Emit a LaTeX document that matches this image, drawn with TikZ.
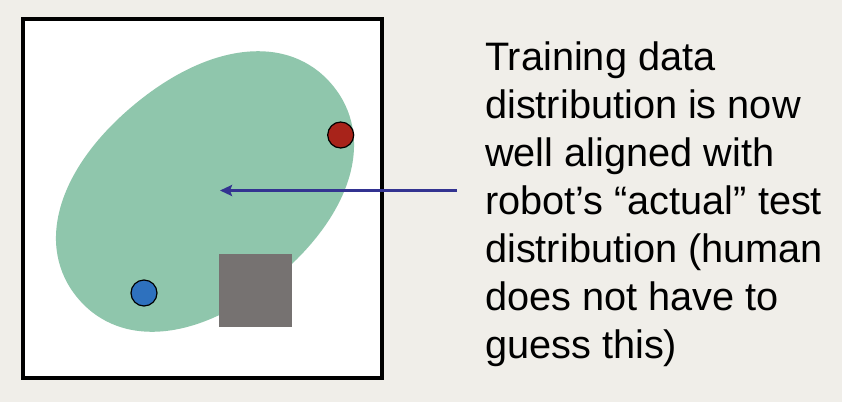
\documentclass[tikz,border=0pt]{standalone}
\usepackage{fontspec}
\setmainfont{Liberation Sans}
\usetikzlibrary{arrows.meta}

\definecolor{paper}{RGB}{240,238,233}
\definecolor{blobgreen}{RGB}{143,198,172}
\definecolor{robotred}{RGB}{168,35,26}
\definecolor{goalblue}{RGB}{46,113,190}
\definecolor{obstaclegray}{RGB}{118,114,113}
\definecolor{arrownavy}{RGB}{51,51,145}

\tikzset{
  frame/.style={draw=black, line width=4pt, fill=white, minimum width=359pt,
    minimum height=359pt, inner sep=0pt},
  marker/.style={circle, draw=black, line width=1.2pt, minimum size=26pt,
    inner sep=0pt},
  obstacle/.style={fill=obstaclegray, minimum size=73pt, inner sep=0pt},
  pointer/.style={draw=arrownavy, line width=3pt,
    -{Stealth[length=12pt, width=11pt, inset=2pt]}},
  caption/.style={anchor=north west, inner sep=0pt, align=left,
    font=\fontsize{39.7}{48}\selectfont}
}

\begin{document}
\begin{tikzpicture}[x=1pt, y=-1pt]
  % page and background
  \useasboundingbox (0,0) rectangle (842,402);
  \fill[paper] (0,0) rectangle (842,402);

  % workspace
  \node[frame] (workspace) at (202.5,198.5) {};

  % training data distribution: a slightly squared-off ellipse, tilted
  \begin{scope}[shift={(205,191.5)}, rotate=40]
    \fill[blobgreen]
      (166,0) .. controls (166,67) and (100,112) .. (0,112)
              .. controls (-100,112) and (-166,67) .. (-166,0)
              .. controls (-166,-67) and (-100,-112) .. (0,-112)
              .. controls (100,-112) and (166,-67) .. (166,0) -- cycle;
  \end{scope}

  \node[obstacle] (block) at (255.5,290.5) {};
  \node[marker, fill=robotred] (robot) at (340.7,135) {};
  \node[marker, fill=goalblue] (goal) at (144,293) {};

  % explanation
  \node[caption] (note) at (485,42)
    {Training data\\
     distribution is now\\
     well aligned with\\
     robot’s “actual” test\\
     distribution (human\\
     does not have to\\
     guess this)};

  \coordinate (tail) at (457,190.5);
  \coordinate (target) at (220,190.5);
  \draw[pointer] (tail) -- (target);
\end{tikzpicture}
\end{document}
